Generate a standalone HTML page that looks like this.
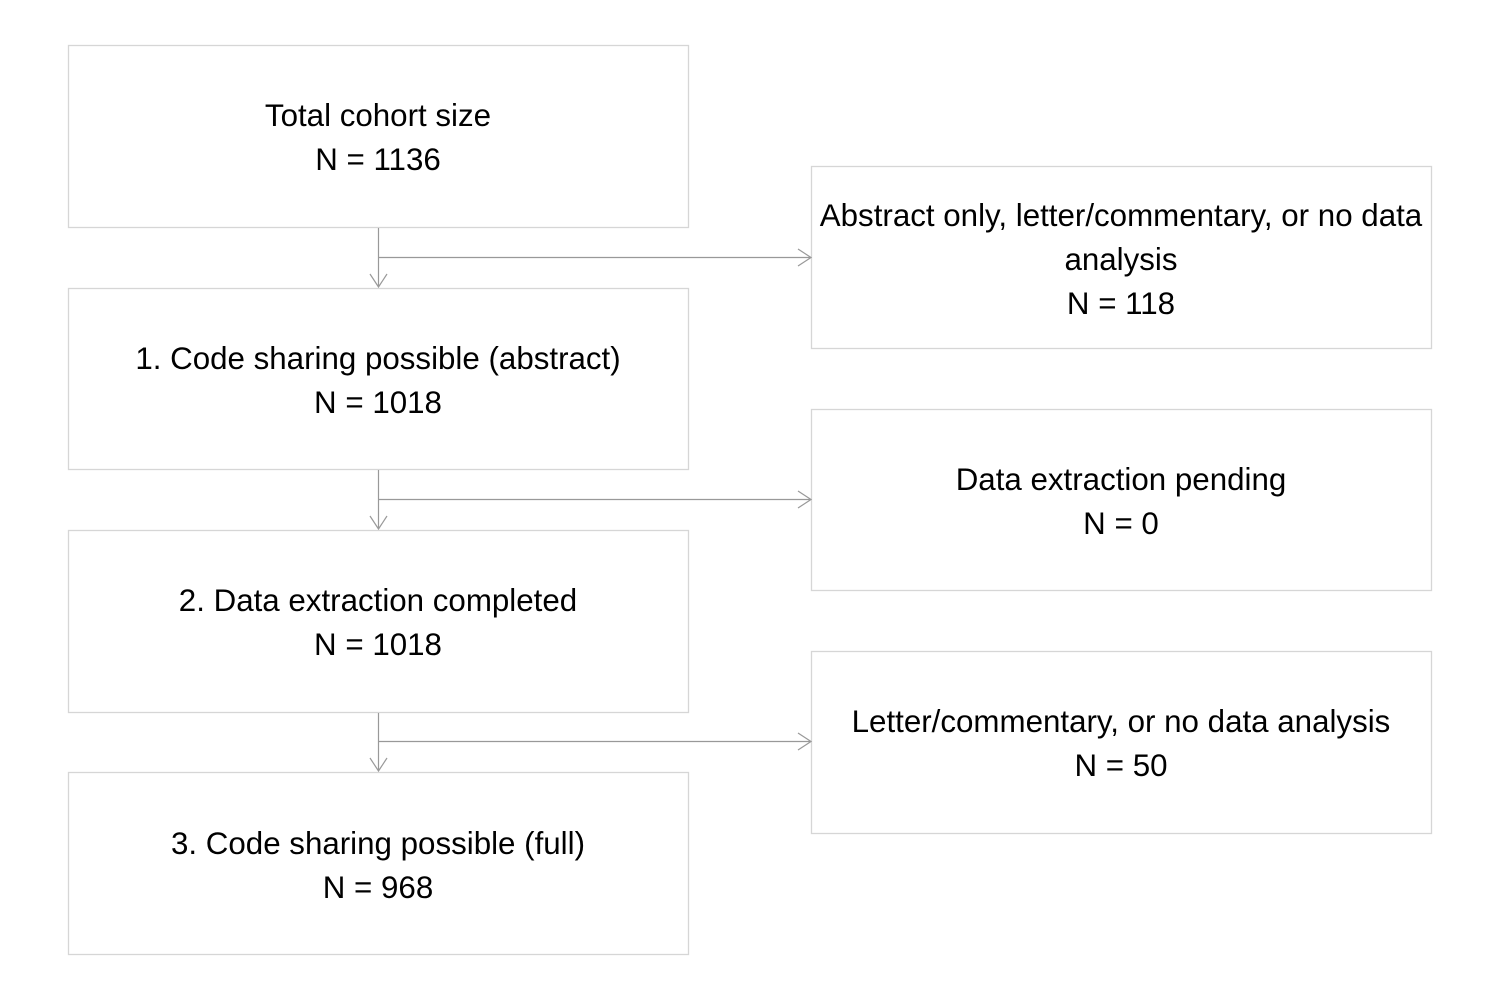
<!DOCTYPE html>
<html><head><meta charset="utf-8"><style>
body{margin:0;background:#fff;width:1500px;height:1000px;overflow:hidden}
svg{display:block}
text{font-family:"Liberation Sans",sans-serif;font-size:31.3px;fill:#000}
</style></head><body>
<svg width="1500" height="1000">
<g fill="none" stroke="#d6d6d6" stroke-width="1.3">
<rect x="68.5" y="45.5" width="620" height="182"/>
<rect x="68.5" y="288.5" width="620" height="181"/>
<rect x="68.5" y="530.5" width="620" height="182"/>
<rect x="68.5" y="772.5" width="620" height="182"/>
<rect x="811.5" y="166.5" width="620" height="182"/>
<rect x="811.5" y="409.5" width="620" height="181"/>
<rect x="811.5" y="651.5" width="620" height="182"/>
</g>
<g fill="none" stroke="#999" stroke-width="1.2">
<g>
<path d="M378.5 228V287M370 274L378.5 287L387 274"/>
<path d="M378.5 257.5H811M798 249L811 257.5L798 266"/>
</g>
<g>
<path d="M378.5 470V529M370 516L378.5 529L387 516"/>
<path d="M378.5 499.5H811M798 491L811 499.5L798 508"/>
</g>
<g>
<path d="M378.5 713V771M370 758L378.5 771L387 758"/>
<path d="M378.5 741.5H811M798 733L811 741.5L798 750"/>
</g>
</g>
<g text-anchor="middle">
<text x="378" y="126">Total cohort size</text>
<text x="378" y="170">N = 1136</text>
<text x="378" y="369">1. Code sharing possible (abstract)</text>
<text x="378" y="413">N = 1018</text>
<text x="378" y="611">2. Data extraction completed</text>
<text x="378" y="655">N = 1018</text>
<text x="378" y="854">3. Code sharing possible (full)</text>
<text x="378" y="898">N = 968</text>
<text x="1121" y="226">Abstract only, letter/commentary, or no data</text>
<text x="1121" y="270">analysis</text>
<text x="1121" y="314">N = 118</text>
<text x="1121" y="490">Data extraction pending</text>
<text x="1121" y="534">N = 0</text>
<text x="1121" y="732">Letter/commentary, or no data analysis</text>
<text x="1121" y="776">N = 50</text>
</g>
</svg>
</body></html>
